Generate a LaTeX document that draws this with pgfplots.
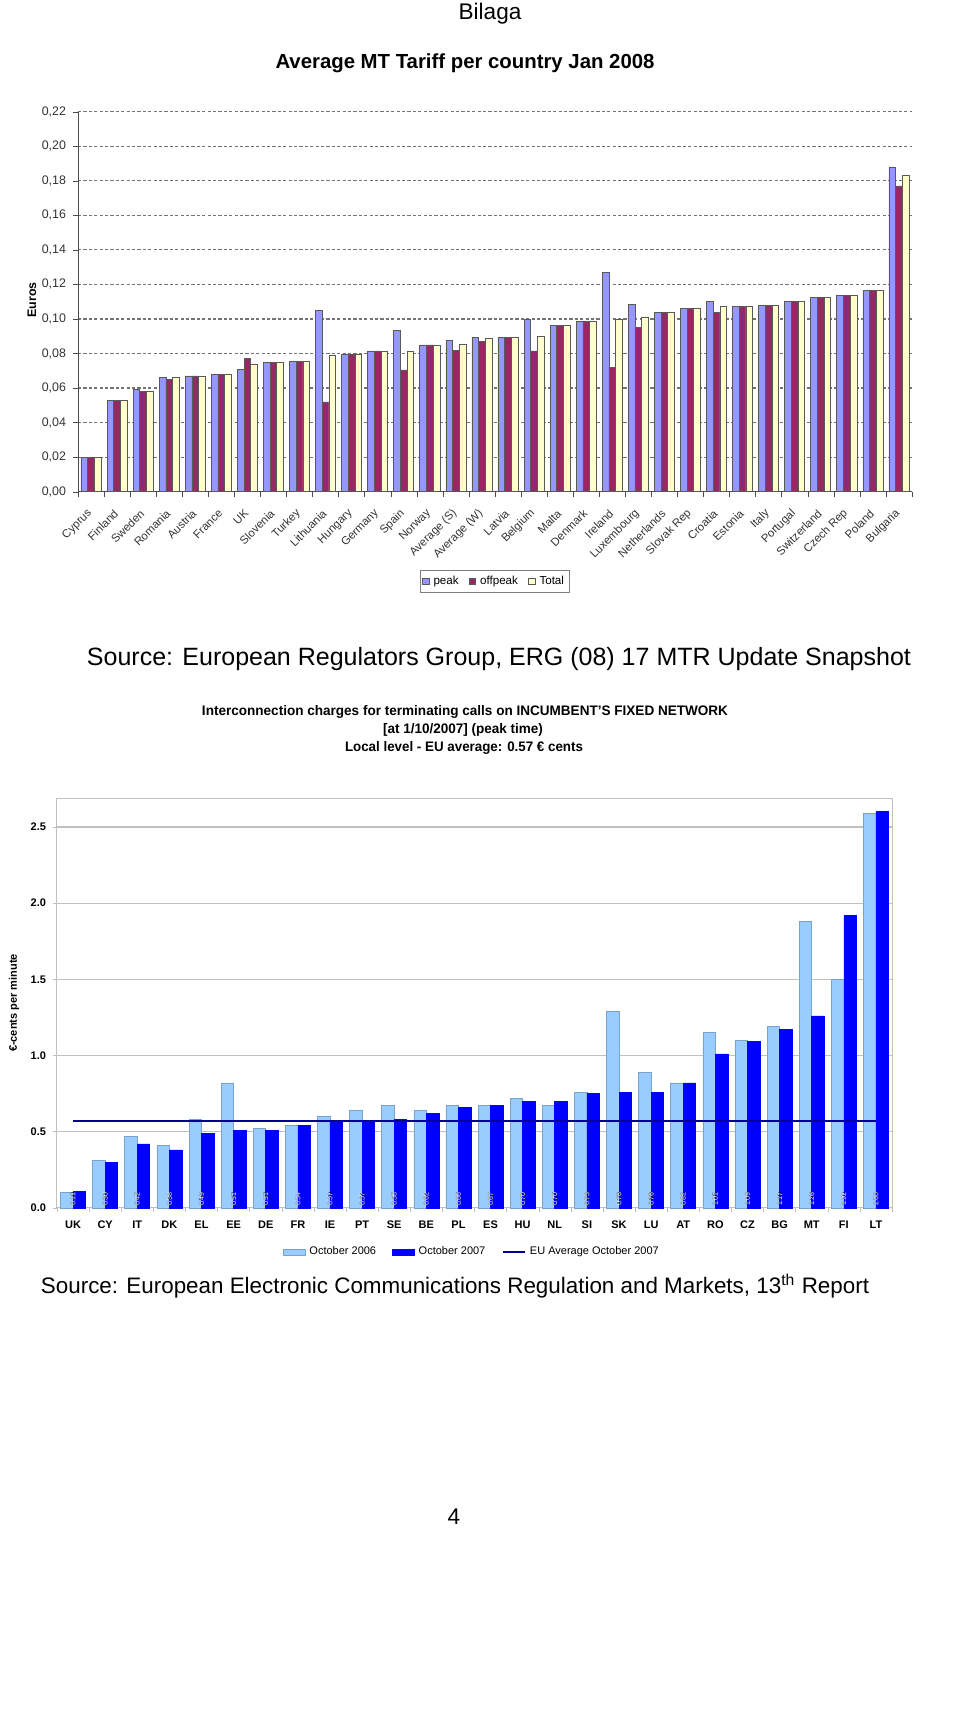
\documentclass[border=0pt]{standalone}
\usepackage{fontspec}
\setmainfont{Liberation Sans}
\usepackage{pgfplots}
\usepackage{pgfplotstable}
\pgfplotsset{compat=1.18}

\definecolor{peakc}{RGB}{150,150,255}
\definecolor{offc}{RGB}{150,40,100}
\definecolor{totc}{RGB}{255,255,204}
\definecolor{oldc}{RGB}{153,204,255}
\definecolor{newc}{RGB}{0,0,255}
\definecolor{avgc}{RGB}{0,0,150}
\definecolor{gridc}{RGB}{192,192,192}

\newcommand\fs[1]{\fontsize{#1}{#1}\selectfont}

% Average MT tariff per country, Jan 2008 (euros)
\pgfplotstableread{
x peak off total
0 0.020 0.020 0.020
1 0.053 0.053 0.053
2 0.059 0.058 0.058
3 0.066 0.065 0.066
4 0.067 0.067 0.067
5 0.068 0.068 0.068
6 0.071 0.077 0.074
7 0.075 0.075 0.075
8 0.0755 0.0755 0.0755
9 0.105 0.052 0.079
10 0.0795 0.0795 0.0795
11 0.0815 0.0815 0.0815
12 0.0935 0.0705 0.0815
13 0.085 0.085 0.085
14 0.0875 0.082 0.0855
15 0.0895 0.087 0.0885
16 0.0895 0.0895 0.0895
17 0.0995 0.0815 0.090
18 0.0965 0.0965 0.0965
19 0.0985 0.0985 0.0985
20 0.127 0.072 0.100
21 0.1085 0.095 0.101
22 0.104 0.104 0.104
23 0.106 0.106 0.106
24 0.110 0.104 0.1075
25 0.1075 0.1075 0.1075
26 0.108 0.108 0.108
27 0.110 0.110 0.110
28 0.1125 0.1125 0.1125
29 0.1135 0.1135 0.1135
30 0.1165 0.1165 0.1165
31 0.188 0.177 0.183
}\tariff

% termination on incumbent fixed network, euro-cents per minute
\pgfplotstableread{
x oct06 oct07
0 0.10 0.11
1 0.31 0.30
2 0.47 0.42
3 0.41 0.38
4 0.58 0.49
5 0.82 0.51
6 0.52 0.51
7 0.54 0.54
8 0.60 0.57
9 0.64 0.57
10 0.67 0.58
11 0.64 0.62
12 0.67 0.66
13 0.67 0.67
14 0.72 0.70
15 0.67 0.70
16 0.76 0.75
17 1.29 0.76
18 0.89 0.76
19 0.82 0.82
20 1.15 1.01
21 1.10 1.09
22 1.19 1.17
23 1.88 1.26
24 1.50 1.92
25 2.59 2.60
}\fixednet

\pgfplotsset{
  sq/.style={legend image code/.code={\draw[##1] (0pt,-1.7pt) rectangle (3.4pt,1.7pt);}},
  wide/.style={legend image code/.code={\draw[##1] (0pt,-1.6pt) rectangle (11pt,1.6pt);}},
  hline/.style={legend image code/.code={\draw[##1] (0pt,0pt) -- (11pt,0pt);}},
  lab/.style={nodes near coords,
    visualization depends on={rawy \as \rawy},
    every node near coord/.append style={shift={(axis direction cs:0,-\rawy)},
      rotate=90, anchor=west, font=\fs{3.5}, text=#1, inner sep=0.8pt,
      /pgf/number format/fixed, /pgf/number format/fixed zerofill,
      /pgf/number format/precision=2}},
}

\begin{document}
\begin{tikzpicture}
\begin{scope}[x=0.5pt,y=-0.5pt]
\useasboundingbox (0,0) rectangle (960,1712);
\coordinate (topSW) at (78,491.7);
\coordinate (botSW) at (57,1207.8);
\node at (490,14) {\fs{11.3}Bilaga};
\node at (465,63) {\resizebox{189.5pt}{!}{\bfseries Average MT Tariff per country Jan 2008}};
\node[rotate=90] at (32,300) {\fs{6.2}\bfseries Euros};
\node at (499,659) {\resizebox{412pt}{!}{Source: European Regulators Group, ERG (08) 17 MTR Update Snapshot}};
\node at (465,712) {\resizebox{263pt}{5pt}{\bfseries Interconnection charges for terminating calls on INCUMBENT'S FIXED NETWORK}};
\node at (463,730) {\resizebox{80pt}{5pt}{\bfseries [at 1/10/2007] (peak time)}};
\node at (464,748) {\resizebox{119pt}{5pt}{\bfseries Local level - EU average: 0.57 € cents}};
\node[rotate=90] at (14,1003) {\fs{5.5}\bfseries €-cents per minute};
\node at (455,1286) {\resizebox{414pt}{!}{Source: European Electronic Communications Regulation and Markets, 13\textsuperscript{th} Report}};
\node at (454,1517) {\fs{11.3}4};
\end{scope}

\begin{axis}[
  at={(topSW)}, anchor=south west, scale only axis,
  width=417pt, height=190pt,
  xmin=-0.5, xmax=31.5, ymin=0, ymax=0.22,
  axis x line*=bottom, axis y line*=left,
  axis line style={-, black!70},
  tick align=outside,
  major tick length=2.5pt, minor tick length=2.5pt,
  tick style={black!70},
  major x tick style={draw=none},
  xtick={0,...,31},
  minor xtick={-0.5,0.5,...,31.5},
  xticklabels={Cyprus,Finland,Sweden,Romania,Austria,France,UK,Slovenia,Turkey,Lithuania,Hungary,Germany,Spain,Norway,Average (S),Average (W),Latvia,Belgium,Malta,Denmark,Ireland,Luxembourg,Netherlands,Slovak Rep,Croatia,Estonia,Italy,Portugal,Switzerland,Czech Rep,Poland,Bulgaria},
  xticklabel shift=7pt,
  xticklabel style={rotate=45, anchor=east, font=\fs{5.7}, text=black!80, inner sep=0.5pt},
  ytick={0,0.02,0.04,0.06,0.08,0.1,0.12,0.14,0.16,0.18,0.2,0.22},
  /pgf/number format/assume math mode=true,
  yticklabel style={font=\fs{6.2}, text=black!80, /pgf/number format/.cd, fixed, fixed zerofill, precision=2, use comma},
  ymajorgrids,
  major grid style={black!55, line width=0.6pt, dash pattern=on 1.6pt off 1.1pt},
  legend style={at={(0.5,-0.236)}, anchor=center, legend columns=3, font=\fs{5.8}, draw=black!50, inner sep=0.8pt, /tikz/every even column/.append style={column sep=3pt}},
  legend cell align=left,
  clip=false,
]
\addplot[ybar, bar width=3.35pt, bar shift=-3.35pt, fill=peakc, draw=black!65, line width=0.35pt, sq] table[x=x,y=peak]{\tariff};
\addplot[ybar, bar width=3.35pt, bar shift=0pt, fill=offc, draw=black!65, line width=0.35pt, sq] table[x=x,y=off]{\tariff};
\addplot[ybar, bar width=3.35pt, bar shift=3.35pt, fill=totc, draw=black!65, line width=0.35pt, sq] table[x=x,y=total]{\tariff};
\legend{peak,offpeak,Total}
\end{axis}

\begin{axis}[
  at={(botSW)}, anchor=south west, scale only axis,
  width=417.5pt, height=204.9pt,
  xmin=-0.5, xmax=25.5, ymin=0, ymax=2.69,
  axis line style={gridc, line width=0.5pt},
  tick align=outside, tick style={gridc},
  major tick length=2pt, minor tick length=2pt,
  major x tick style={draw=none},
  xtick pos=bottom, ytick pos=left,
  xtick={0,...,25},
  minor xtick={-0.5,0.5,...,25.5},
  xticklabels={UK,CY,IT,DK,EL,EE,DE,FR,IE,PT,SE,BE,PL,ES,HU,NL,SI,SK,LU,AT,RO,CZ,BG,MT,FI,LT},
  xticklabel style={font=\fs{5.5}\bfseries, yshift=-1pt},
  ytick={0,0.5,1,1.5,2,2.5},
  /pgf/number format/assume math mode=true,
  yticklabel style={font=\fs{5.5}\bfseries, /pgf/number format/.cd, fixed, fixed zerofill, precision=1},
  ymajorgrids,
  major grid style={gridc, line width=0.6pt},
  legend style={at={(0.498,-0.108)}, anchor=center, legend columns=3, font=\fs{5.5}, draw=none, fill=none, /tikz/every even column/.append style={column sep=6pt}},
  legend cell align=left,
  clip=false,
]
\addplot[ybar, bar width=6.25pt, bar shift=-3.125pt, fill=oldc, draw=oldc!80!black, line width=0.3pt, wide, lab=black] table[x=x,y=oct06]{\fixednet};
\addplot[ybar, bar width=6.25pt, bar shift=3.125pt, fill=newc, draw=newc, line width=0.3pt, wide, lab=white] table[x=x,y=oct07]{\fixednet};
\addplot[avgc, line width=1.3pt, hline] coordinates {(0,0.57) (25,0.57)};
\legend{October 2006,October 2007,EU Average October 2007}
\end{axis}
\end{tikzpicture}
\end{document}
